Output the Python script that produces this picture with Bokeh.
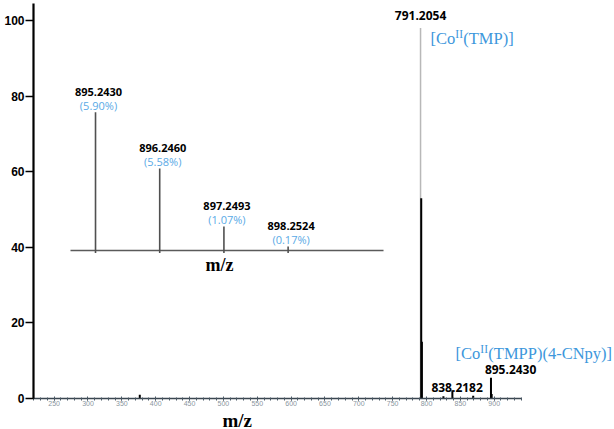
from bokeh.plotting import figure
from bokeh.models import Range1d, SingleIntervalTicker, FixedTicker, Title
from bokeh.embed import file_html
from bokeh.resources import INLINE
from bokeh.core.properties import value

# ---------------- data ----------------
main_mz = [376.5, 791.2054, 792.2085, 793.2110, 825.0, 838.2182, 869.0, 895.2430, 896.2460]
main_int = [1.0, 98.0, 53.0, 15.0, 0.6, 2.2, 0.7, 5.5, 1.2]
inset_mz = [895.2430, 896.2460, 897.2493, 898.2524]
inset_rel = [100.0, 59.3, 17.4, 2.9]
inset_pct = ["(5.90%)", "(5.58%)", "(1.07%)", "(0.17%)"]
y_ticks = [0, 20, 40, 60, 80, 100]
peak_791 = 791.2054
peak_838 = 838.2182
peak_895 = 895.2430

BLUE = "#3d97dc"
BLUE_PCT = "#5aaae6"

p = figure(width=614, height=429, x_range=Range1d(219.5, 1077.7), y_range=Range1d(0, 105.3),
           output_backend="svg", toolbar_location=None,
           min_border_left=33, min_border_right=0, min_border_top=0, min_border_bottom=31)
p.xgrid.visible = False
p.ygrid.visible = False
p.outline_line_color = None
p.background_fill_color = "white"

# x axis
xa = p.xaxis[0]
xa.ticker = SingleIntervalTicker(interval=50, num_minor_ticks=5)
xa.bounds = (219.5, 941)
xa.axis_line_color = "#3a4650"
xa.axis_line_width = 1.3
xa.major_tick_in = 2
xa.major_tick_out = 2
xa.minor_tick_in = 1
xa.minor_tick_out = 2
xa.major_tick_line_color = "#4a5864"
xa.minor_tick_line_color = "#4a5864"
xa.major_label_text_font = "Liberation Sans"
xa.major_label_text_font_size = "7px"
xa.major_label_text_color = "#8a96a0"
xa.major_label_standoff = 0

# main x-axis title (below the axis, outside the frame)
p.add_layout(Title(text="m/z", align="left", offset=189, standoff=-2,
                   text_font="Liberation Serif", text_font_style="bold",
                   text_font_size="19px", text_color="black"), "below")

# y axis
ya = p.yaxis[0]
ya.ticker = FixedTicker(ticks=y_ticks)
ya.bounds = (0, 104.5)
ya.axis_line_color = "black"
ya.axis_line_width = 2.2
ya.major_tick_in = 0
ya.major_tick_out = 8
ya.major_tick_line_width = 1.5
ya.minor_tick_line_color = None
ya.major_label_text_font = "Liberation Sans"
ya.major_label_text_font_style = "bold"
ya.major_label_text_font_size = "12px"
ya.major_label_text_color = "black"
ya.major_label_standoff = 1

# main spectrum peaks
colors = ["#b8b8b8" if v > 90 else "black" for v in main_int]
widths = [1.5 if v > 90 else 2.0 for v in main_int]
p.segment(x0=main_mz, y0=[0] * len(main_mz), x1=main_mz, y1=main_int,
          line_color=colors, line_width=widths)

top791 = main_int[main_mz.index(peak_791)]
p.text(x=[peak_791], y=[top791 + 3.3], text=[f"{peak_791:.4f}"],
       text_font=value("Open Sans"), text_font_style="bold", text_font_size="12px",
       text_align="center", text_baseline="middle", text_color="black")
p.text(x=[peak_838 + 7], y=[2.9], text=[f"{peak_838:.4f}"],
       text_font=value("Open Sans"), text_font_style="bold", text_font_size="12px",
       text_align="center", text_baseline="middle", text_color="black")
p.text(x=[peak_895 + 29], y=[7.7], text=[f"{peak_895:.4f}"],
       text_font=value("Open Sans"), text_font_style="bold", text_font_size="12px",
       text_align="center", text_baseline="middle", text_color="black")


def complex_label(x, y, tail):
    common = dict(text_font=value("Liberation Serif"), text_color=BLUE,
                  text_align="left", text_baseline="alphabetic")
    p.text(x=[x], y=[y], text=["[Co"], text_font_size="16.5px", **common)
    p.text(x=[x], y=[y + 1.15], text=["II"], text_font_size="11.5px", x_offset=24.8, **common)
    p.text(x=[x], y=[y], text=[tail], text_font_size="16.5px", x_offset=32.8, **common)


complex_label(peak_791 + 14.7, 95.2, "(TMP)]")
complex_label(peak_895 - 52.4, 11.9, "(TMPP)(4-CNpy)]")

# ---------------- inset ----------------
p.extra_x_ranges = {"ix": Range1d(894.274, 903.352)}
p.extra_y_ranges = {"iy": Range1d(-107.0, 180.8)}

p.line(x=[894.852, 899.743], y=[0, 0], x_range_name="ix", y_range_name="iy",
       line_color="#5a5a5a", line_width=1.6)
p.segment(x0=inset_mz, y0=[-1.8] * 4, x1=inset_mz, y1=inset_rel,
          x_range_name="ix", y_range_name="iy", line_color="#505050", line_width=1.6)
p.text(x=inset_mz, y=[r + 14.8 for r in inset_rel], text=[f"{m:.4f}" for m in inset_mz],
       x_range_name="ix", y_range_name="iy", x_offset=3,
       text_font=value("Open Sans"), text_font_style="bold", text_font_size="11px",
       text_align="center", text_baseline="middle", text_color="black")
p.text(x=inset_mz, y=[r + 5.2 for r in inset_rel], text=inset_pct,
       x_range_name="ix", y_range_name="iy", x_offset=3,
       text_font=value("Open Sans"), text_font_size="11px",
       text_align="center", text_baseline="middle", text_color=BLUE_PCT)
p.text(x=[897.18], y=[-10.8], text=["m/z"], x_range_name="ix", y_range_name="iy",
       text_font=value("Liberation Serif"), text_font_style="bold", text_font_size="18px",
       text_align="center", text_baseline="middle", text_color="black")

open("out.html", "w").write(file_html(p, INLINE))
